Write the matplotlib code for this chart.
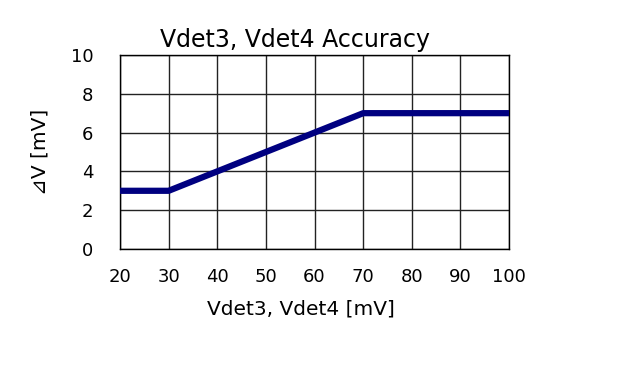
import matplotlib
matplotlib.use('Agg')
import matplotlib.pyplot as plt

plt.rcParams['font.family'] = ['DejaVu Sans', 'Noto Sans CJK JP']

# データ
vdet = [20, 30, 70, 100]
delta_v = [3, 3, 7, 7]
x_ticks = [20, 30, 40, 50, 60, 70, 80, 90, 100]
y_ticks = [0, 2, 4, 6, 8, 10]

fig = plt.figure(figsize=(6.4, 3.79), dpi=100)
ax = fig.add_axes([0.1875, 0.343, 0.608, 0.512])
ax.plot(vdet, delta_v, color='#000080', lw=4.5, solid_capstyle='butt', zorder=3)
ax.set_xlim(20, 100)
ax.set_ylim(0, 10)
ax.set_xticks(x_ticks)
ax.set_yticks(y_ticks)
ax.grid(color='#222222', lw=1)
ax.tick_params(length=0, labelsize=13)
ax.tick_params(axis='x', pad=14)
ax.tick_params(axis='y', pad=19)
for s in ax.spines.values():
    s.set_color('black')
    s.set_linewidth(1)
ax.set_title('Vdet3, Vdet4 Accuracy', fontsize=17, pad=6, x=0.451)
ax.set_xlabel('Vdet3, Vdet4 [mV]', fontsize=14.5)
ax.xaxis.set_label_coords(0.465, -0.26)
ax.set_ylabel('⊿V [mV]', fontsize=14.5)
ax.yaxis.set_label_coords(-0.18, 0.5)

plt.savefig('out.png', dpi=100)
